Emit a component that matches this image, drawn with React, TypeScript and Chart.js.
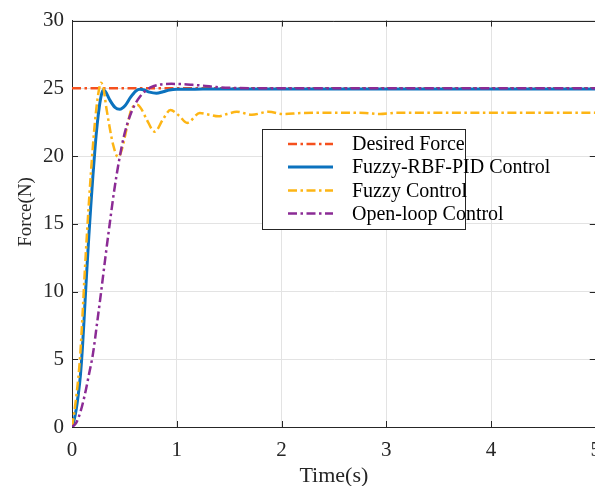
import { useEffect, useRef } from "react";
import { Chart, registerables } from "chart.js";

Chart.register(...registerables);

const FONT = '"Liberation Serif", "Times New Roman", serif';

const xTickStep = 1;
const yTickStep = 5;
const xRange = [0, 5];
const yRange = [0, 30];

const xAxisTitle = "Time(s)";
const yAxisTitle = "Force(N)";

const seriesLabels = [
  "Desired Force",
  "Fuzzy-RBF-PID Control",
  "Fuzzy Control",
  "Open-loop Control",
];

const desiredTime = [0, 5];
const desiredForce = [25, 25];

const rbfTime = [
  0, 0.02, 0.04, 0.06, 0.08, 0.1, 0.12, 0.14, 0.16, 0.18, 0.2, 0.22, 0.24,
  0.26, 0.28, 0.298, 0.32, 0.36, 0.41, 0.457, 0.51, 0.56, 0.61, 0.648, 0.69,
  0.74, 0.806, 0.87, 0.93, 1.0, 1.1, 1.25, 1.5, 2, 3, 4, 5,
];
const rbfForce = [
  0, 0.5, 1.3, 2.4, 3.8, 5.9, 8.6, 11.4, 14.0, 16.4, 18.6, 20.6, 22.3, 23.6,
  24.5, 24.88, 24.75, 24.15, 23.6, 23.46, 23.75, 24.35, 24.8, 24.93, 24.88,
  24.72, 24.64, 24.75, 24.88, 24.93, 24.93, 24.95, 24.95, 24.95, 24.95, 24.95,
  24.95,
];

const fuzzyTime = [
  0, 0.02, 0.04, 0.06, 0.08, 0.1, 0.12, 0.14, 0.16, 0.18, 0.2, 0.22, 0.24,
  0.26, 0.276, 0.3, 0.33, 0.394, 0.441, 0.48, 0.521, 0.568, 0.622, 0.66, 0.711,
  0.79, 0.87, 0.94, 1.02, 1.1, 1.22, 1.31, 1.397, 1.48, 1.573, 1.717, 1.877,
  2.02, 2.18, 2.5, 2.8, 2.94, 3.1, 3.5, 4, 4.5, 5,
];
const fuzzyForce = [
  0, 1.0, 2.2, 3.6, 5.5, 8.2, 11.2, 13.9, 16.4, 18.7, 20.8, 22.6, 24.0, 25.0,
  25.42, 25.0, 23.46, 20.8, 19.92, 20.6, 22.0, 23.46, 23.78, 23.5, 22.73,
  21.8, 22.73, 23.4, 23.0, 22.45, 23.17, 23.05, 22.93, 23.1, 23.27, 23.05,
  23.27, 23.1, 23.17, 23.2, 23.18, 23.1, 23.2, 23.2, 23.2, 23.2, 23.2,
];

const openLoopTime = [
  0, 0.04, 0.08, 0.12, 0.16, 0.2, 0.24, 0.28, 0.32, 0.36, 0.4, 0.45, 0.5, 0.55,
  0.6, 0.65, 0.7, 0.76, 0.84, 0.95, 1.05, 1.15, 1.25, 1.38, 1.54, 1.76, 2, 5,
];
const openLoopForce = [
  0, 0.3, 1.1, 2.3, 3.8, 5.4, 7.7, 10.1, 12.6, 15.0, 17.3, 19.7, 21.6, 22.9,
  23.8, 24.4, 24.8, 25.1, 25.28, 25.33, 25.31, 25.26, 25.2, 25.09, 25.03,
  25.0, 25, 25,
];

const toPoints = (xs: number[], ys: number[]) =>
  xs.map((x, i) => ({ x, y: ys[i] }));

const AXIS_COLOR = "#262626";

const framePlugin = {
  id: "matlabFrame",
  beforeDatasetsDraw(chart: any) {
    const { ctx, chartArea } = chart;
    const { left, right, top, bottom } = chartArea;
    const xs = chart.scales.x;
    const ys = chart.scales.y;
    ctx.save();
    ctx.strokeStyle = AXIS_COLOR;
    ctx.lineWidth = 1;
    ctx.beginPath();
    ctx.moveTo(left, Math.round(top) + 0.5);
    ctx.lineTo(right, Math.round(top) + 0.5);
    ctx.moveTo(Math.round(right) - 0.5, top);
    ctx.lineTo(Math.round(right) - 0.5, bottom);
    const tl = 6;
    xs.ticks.forEach((t: any) => {
      const px = Math.round(xs.getPixelForValue(t.value)) + 0.5;
      ctx.moveTo(px, bottom);
      ctx.lineTo(px, bottom - tl);
      ctx.moveTo(px, top);
      ctx.lineTo(px, top + tl);
    });
    ys.ticks.forEach((t: any) => {
      const py = Math.round(ys.getPixelForValue(t.value)) + 0.5;
      ctx.moveTo(left, py);
      ctx.lineTo(left + tl, py);
      ctx.moveTo(right, py);
      ctx.lineTo(right - tl, py);
    });
    ctx.stroke();
    ctx.restore();
  },
  afterDraw(chart: any) {
    const { ctx } = chart;
    // y-axis title
    ctx.save();
    ctx.translate(26.5, 212);
    ctx.rotate(-Math.PI / 2);
    ctx.font = `19px ${FONT}`;
    ctx.fillStyle = AXIS_COLOR;
    ctx.textAlign = "center";
    ctx.textBaseline = "middle";
    ctx.fillText(yAxisTitle, 0, 0);
    ctx.restore();

    // legend
    const bx = 262.5;
    const by = 129.5;
    const bw = 203;
    const bh = 100;
    const rows = [144, 167, 190.5, 213.5];
    ctx.save();
    ctx.fillStyle = "#ffffff";
    ctx.fillRect(bx, by, bw, bh);
    ctx.strokeStyle = AXIS_COLOR;
    ctx.lineWidth = 1;
    ctx.strokeRect(bx, by, bw, bh);
    chart.data.datasets.forEach((ds: any, i: number) => {
      const y = rows[i];
      ctx.save();
      ctx.strokeStyle = ds.borderColor;
      ctx.lineWidth = ds.borderWidth;
      ctx.setLineDash(ds.borderDash || []);
      ctx.beginPath();
      ctx.moveTo(288, y);
      ctx.lineTo(333, y);
      ctx.stroke();
      ctx.restore();
      ctx.font = `20px ${FONT}`;
      ctx.fillStyle = "#000000";
      ctx.textAlign = "left";
      ctx.textBaseline = "middle";
      ctx.fillText(ds.label, 352, y + 1);
    });
    ctx.restore();
  },
};

export default function App() {
  const canvasRef = useRef<HTMLCanvasElement | null>(null);

  useEffect(() => {
    const canvas = canvasRef.current;
    if (!canvas) return;
    const dash = [9, 3.5, 2.5, 3.5];
    const chart = new Chart(canvas, {
      type: "line",
      data: {
        datasets: [
          {
            label: seriesLabels[0],
            data: toPoints(desiredTime, desiredForce),
            borderColor: "#F5501E",
            borderWidth: 2.5,
            borderDash: dash,
            pointRadius: 0,
            order: 4,
          },
          {
            label: seriesLabels[1],
            data: toPoints(rbfTime, rbfForce),
            borderColor: "#0B72BE",
            borderWidth: 3,
            pointRadius: 0,
            cubicInterpolationMode: "monotone",
            order: 3,
          },
          {
            label: seriesLabels[2],
            data: toPoints(fuzzyTime, fuzzyForce),
            borderColor: "#FDB515",
            borderWidth: 2.5,
            borderDash: dash,
            pointRadius: 0,
            cubicInterpolationMode: "monotone",
            order: 2,
          },
          {
            label: seriesLabels[3],
            data: toPoints(openLoopTime, openLoopForce),
            borderColor: "#8B2B95",
            borderWidth: 2.5,
            borderDash: dash,
            pointRadius: 0,
            cubicInterpolationMode: "monotone",
            order: 1,
          },
        ],
      },
      options: {
        animation: false,
        responsive: false,
        devicePixelRatio: 1,
        layout: { padding: { left: 0, right: 0, top: 17, bottom: 0 } },
        plugins: {
          legend: { display: false },
          tooltip: { enabled: false },
        },
        scales: {
          x: {
            type: "linear",
            min: xRange[0],
            max: xRange[1],
            ticks: {
              stepSize: xTickStep,
              padding: 11,
              maxRotation: 0,
              color: AXIS_COLOR,
              font: { family: FONT, size: 21 },
            },
            grid: { color: "#e3e3e3", drawTicks: false },
            border: { color: AXIS_COLOR, width: 1 },
            title: {
              display: true,
              text: xAxisTitle,
              color: AXIS_COLOR,
              font: { family: FONT, size: 22, lineHeight: 0.9 },
              padding: { top: 0, bottom: 0 },
            },
            afterFit: (scale: any) => {
              scale.height = 59;
            },
          },
          y: {
            type: "linear",
            min: yRange[0],
            max: yRange[1],
            ticks: {
              stepSize: yTickStep,
              padding: 8,
              color: AXIS_COLOR,
              font: { family: FONT, size: 21 },
            },
            grid: { color: "#e3e3e3", drawTicks: false },
            border: { color: AXIS_COLOR, width: 1 },
            afterFit: (scale: any) => {
              scale.width = 72;
            },
          },
        },
      } as any,
      plugins: [framePlugin],
    });
    return () => chart.destroy();
  }, []);

  return (
    <div
      style={{
        position: "absolute",
        left: 0,
        top: 0,
        width: 595,
        height: 486,
        overflow: "hidden",
        background: "#ffffff",
      }}
    >
      <canvas
        ref={canvasRef}
        width={612}
        height={486}
        style={{ display: "block", width: 612, height: 486 }}
      />
    </div>
  );
}
